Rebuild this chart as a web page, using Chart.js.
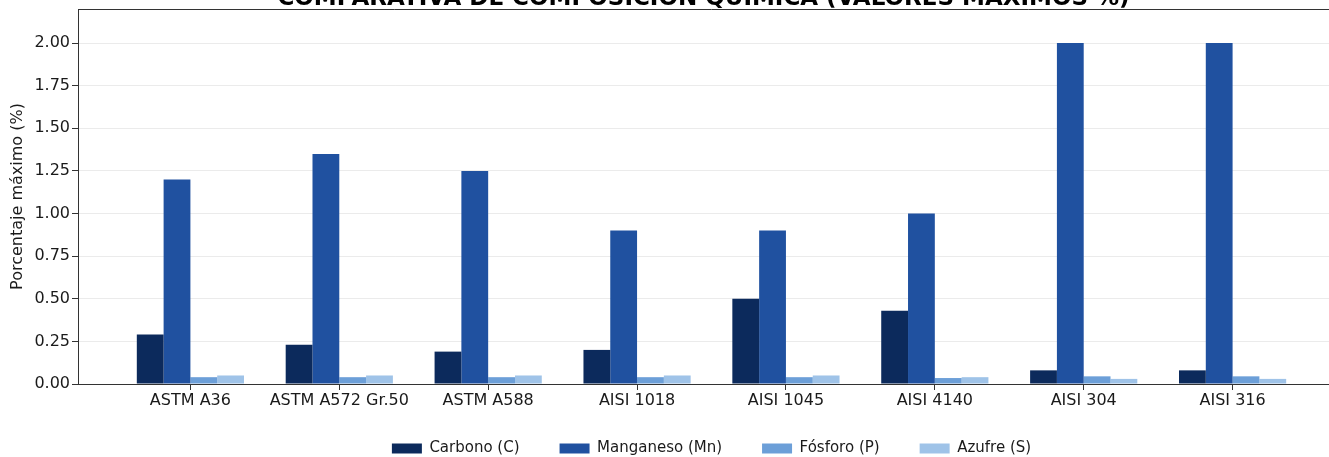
<!DOCTYPE html>
<html lang="es">
<head>
<meta charset="utf-8">
<title>Comparativa de composición química</title>
<script src="https://cdn.jsdelivr.net/npm/chart.js@4.4.1/dist/chart.umd.min.js"></script>
<style>
  html, body { margin: 0; padding: 0; background: #fff; overflow: hidden; }
  #wrap { width: 1360px; height: 457px; }
</style>
</head>
<body>
<div id="wrap"><canvas id="chartQuim" width="1360" height="457"></canvas></div>
<script>
// --- Datos (valores máximos %) ---
const aceros = ['ASTM A36', 'ASTM A572 Gr.50', 'ASTM A588', 'AISI 1018', 'AISI 1045', 'AISI 4140', 'AISI 304', 'AISI 316'];
const carbono   = [0.29, 0.23, 0.19, 0.20, 0.50, 0.43, 0.08, 0.08];
const manganeso = [1.20, 1.35, 1.25, 0.90, 0.90, 1.00, 2.00, 2.00];
const fosforo   = [0.04, 0.04, 0.04, 0.04, 0.04, 0.035, 0.045, 0.045];
const azufre    = [0.05, 0.05, 0.05, 0.05, 0.05, 0.04, 0.03, 0.03];
const yTicks = [0, 0.25, 0.5, 0.75, 1.0, 1.25, 1.5, 1.75, 2.0];

const TITULO = 'COMPARATIVA DE COMPOSICIÓN QUÍMICA (VALORES MÁXIMOS %)';
const FONT = "'DejaVu Sans', sans-serif";
const INK = '#1a1a1a';
const SPINE = '#333';

// serie -> puntos {x: índice, y: valor}
const pts = arr => arr.map((v, i) => ({ x: i, y: v }));

const series = [
  ['Carbono (C)', carbono, '#0c2a5c'],
  ['Manganeso (Mn)', manganeso, '#2051a0'],
  ['Fósforo (P)', fosforo, '#6c9fd8'],
  ['Azufre (S)', azufre, '#9fc3e8']
];

// título (centrado en la figura, no en el eje) + borde superior/derecho del eje
const framePlugin = {
  id: 'frame',
  afterLayout(chart) {
    // la leyenda lleva mucho padding: que las etiquetas del eje x no se recorten
    const x = chart.scales.x;
    x.bottom = x.top + 30;
    x.height = 30;
  },
  afterDraw(chart) {
    const { ctx, chartArea: a } = chart;
    ctx.save();
    ctx.strokeStyle = SPINE;
    ctx.lineWidth = 1;
    ctx.beginPath();
    ctx.moveTo(a.left, a.top + 0.5);
    ctx.lineTo(a.right, a.top + 0.5);
    ctx.lineTo(a.right - 0.5, a.bottom);
    ctx.stroke();
    ctx.fillStyle = '#000';
    ctx.font = `bold 23px ${FONT}`;
    ctx.textAlign = 'center';
    ctx.textBaseline = 'alphabetic';
    ctx.fillText(TITULO, (a.left + a.right) / 2 - 8, 5);
    ctx.restore();
  }
};

new Chart(document.getElementById('chartQuim'), {
  type: 'bar',
  data: {
    datasets: series.map(([label, vals, color]) => ({
      label,
      data: pts(vals),
      backgroundColor: color,
      borderWidth: 0
    }))
  },
  options: {
    responsive: false,
    devicePixelRatio: 1,
    animation: false,
    categoryPercentage: 0.72,
    barPercentage: 1.0,
    layout: { padding: { top: 9, right: 15, left: 0, bottom: -9 } },
    plugins: {
      title: { display: false },
      tooltip: { enabled: false },
      legend: {
        position: 'bottom',
        fullSize: false,
        labels: {
          font: { family: FONT, size: 15 },
          color: INK,
          boxWidth: 30,
          boxHeight: 10,
          padding: 40
        }
      }
    },
    scales: {
      x: {
        type: 'linear',
        offset: false,
        min: -0.755,
        max: 7.755,
        afterBuildTicks: s => { s.ticks = aceros.map((_, i) => ({ value: i })); },
        afterFit: s => { s.height = 17; s.paddingLeft = 0; s.paddingRight = 0; },
        ticks: {
          font: { family: FONT, size: 16 },
          color: INK,
          padding: 1,
          maxRotation: 0,
          autoSkip: false,
          callback: v => aceros[v] ?? ''
        },
        grid: { offset: false, drawOnChartArea: false, drawTicks: true, tickLength: 6, color: SPINE },
        border: { color: SPINE, width: 1 }
      },
      y: {
        min: 0,
        max: 2.2,
        z: 1,
        afterBuildTicks: s => { s.ticks = yTicks.map(v => ({ value: v })); },
        afterFit: s => { s.width = 78; s.paddingTop = 0; s.paddingBottom = 0; },
        ticks: {
          font: { family: FONT, size: 16 },
          color: INK,
          padding: 2,
          callback: v => Number(v).toFixed(2)
        },
        grid: {
          color: ctx => (ctx.tick && ctx.tick.value === 0) ? 'rgba(0,0,0,0)' : 'rgba(190,190,190,0.3)',
          tickColor: SPINE,
          tickLength: 6
        },
        border: { color: SPINE, width: 1 },
        title: {
          display: true,
          text: 'Porcentaje máximo (%)',
          font: { family: FONT, size: 16 },
          color: INK,
          padding: { top: 8, bottom: 0 }
        }
      }
    }
  },
  plugins: [framePlugin]
});
</script>
</body>
</html>
